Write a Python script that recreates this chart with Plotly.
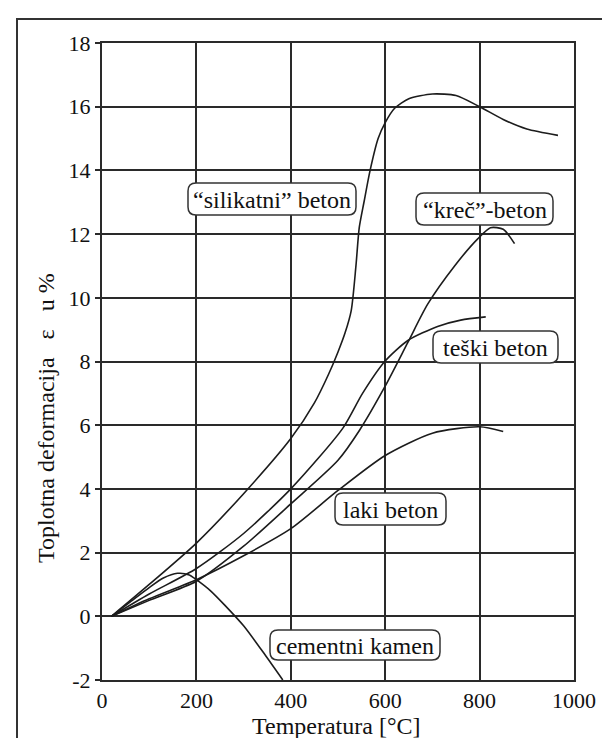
import plotly.graph_objects as go

# ---------------- data ----------------
silikatni_T = [20, 100, 200, 300, 400, 450, 480, 500, 515, 528, 538, 545, 555, 568, 585, 600, 620, 650, 700, 750, 800, 850, 900, 966]
silikatni_v = [0, 1.0, 2.3, 3.85, 5.58, 6.7, 7.6, 8.3, 8.9, 9.6, 11.0, 12.2, 13.0, 14.0, 15.0, 15.5, 15.95, 16.25, 16.4, 16.35, 16.0, 15.6, 15.3, 15.1]

krec_T = [20, 100, 200, 300, 400, 500, 546, 599, 648, 690, 747, 796, 823, 850, 874]
krec_v = [0, 0.5, 1.1, 2.2, 3.53, 4.9, 5.85, 7.2, 8.6, 9.8, 11.0, 11.85, 12.2, 12.15, 11.7]

teski_T = [20, 100, 200, 300, 400, 510, 552, 599, 648, 711, 760, 813]
teski_v = [0, 0.7, 1.5, 2.6, 4.0, 5.9, 7.0, 8.0, 8.66, 9.1, 9.3, 9.4]

laki_T = [20, 100, 200, 300, 400, 500, 600, 700, 800, 850]
laki_v = [0, 0.55, 1.15, 1.9, 2.75, 3.95, 5.05, 5.75, 5.95, 5.8]

cement_T = [20, 60, 100, 130, 160, 185, 200, 230, 260, 300, 340, 383]
cement_v = [0, 0.45, 0.9, 1.2, 1.35, 1.3, 1.15, 0.8, 0.35, -0.3, -1.1, -2.0]

x_ticks = [0, 200, 400, 600, 800, 1000]
x_ticklabels = ["0", "200", "400", "600", "800", "1000"]
y_ticks = [-2, 0, 2, 4, 6, 8, 10, 12, 14, 16, 18]
y_ticklabels = ["-2", "0", "2", "4", "6", "8", "10", "12", "14", "16", "18"]

label_texts = ["\u201csilikatni\u201d beton", "\u201ckre\u010d\u201d-beton", "te\u0161ki beton", "laki beton", "cementni kamen"]

# ---------------- layout geometry (pixels) ----------------
W, H = 610, 738
L, R, T, B = 94, 44, 35, 66
PW, PH = W - L - R, H - T - B
XMIN, XMAX, YMIN, YMAX = 0, 1000, -2, 18

def px2x(px):
    return XMIN + (px - L) / PW * (XMAX - XMIN)

def py2y(py):
    return YMAX - (py - T) / PH * (YMAX - YMIN)

def rounded_path(x0, y0, x1, y1, r=8):
    def P(px, py):
        return f"{px2x(px):.4f},{py2y(py):.4f}"
    return (f"M {P(x0 + r, y0)} L {P(x1 - r, y0)} Q {P(x1, y0)} {P(x1, y0 + r)} "
            f"L {P(x1, y1 - r)} Q {P(x1, y1)} {P(x1 - r, y1)} "
            f"L {P(x0 + r, y1)} Q {P(x0, y1)} {P(x0, y1 - r)} "
            f"L {P(x0, y0 + r)} Q {P(x0, y0)} {P(x0 + r, y0)} Z")

label_boxes = [(180, 175, 348, 207), (408, 185, 545, 217), (425, 323, 550, 355),
               (327, 485, 438, 517), (262, 622, 432, 652)]

LINE_COL = "#1c1c1c"
FONT = "Liberation Serif, Times New Roman, serif"

fig = go.Figure()
for Tv, vv in [(silikatni_T, silikatni_v), (krec_T, krec_v), (teski_T, teski_v),
               (laki_T, laki_v), (cement_T, cement_v)]:
    fig.add_trace(go.Scatter(x=Tv, y=vv, mode="lines",
                             line=dict(color=LINE_COL, width=1.6, shape="spline", smoothing=0.7),
                             hoverinfo="skip", showlegend=False))

shapes = []
annotations = []
for (x0, y0, x1, y1), txt in zip(label_boxes, label_texts):
    shapes.append(dict(type="path", xref="x", yref="y", path=rounded_path(x0, y0, x1, y1),
                       fillcolor="white", line=dict(color="#333333", width=1.5), layer="above"))
    annotations.append(dict(x=px2x((x0 + x1) / 2), y=py2y((y0 + y1) / 2 + 1), xref="x", yref="y",
                            text=txt, showarrow=False, font=dict(family=FONT, size=24, color="#111111"),
                            xanchor="center", yanchor="middle"))

# outer frame (left and top visible)
shapes.append(dict(type="rect", xref="paper", yref="paper",
                   x0=(9 - L) / PW, x1=1.2, y0=-0.3, y1=(H - B - 11) / PH,
                   line=dict(color="#333333", width=2), fillcolor="rgba(0,0,0,0)", layer="below"))

annotations.append(dict(x=(328 - L) / PW, y=(H - B - 718) / PH, xref="paper", yref="paper",
                        text="Temperatura [\u00b0C]", showarrow=False,
                        font=dict(family=FONT, size=24, color="#111111"),
                        xanchor="center", yanchor="middle"))
annotations.append(dict(x=(38 - L) / PW, y=(H - B - 410) / PH, xref="paper", yref="paper",
                        text="Toplotna deformacija \u2002\u03b5\u2002 u %", textangle=-90, showarrow=False,
                        font=dict(family=FONT, size=24, color="#111111"),
                        xanchor="center", yanchor="middle"))

axis_common = dict(showgrid=True, gridcolor="#2a2a2a", gridwidth=1.6, zeroline=False,
                   showline=True, linecolor="#2a2a2a", linewidth=2, mirror=True,
                   tickfont=dict(family=FONT, size=22, color="#111111"))

fig.update_layout(
    width=W, height=H, autosize=False,
    margin=dict(l=L, r=R, t=T, b=B),
    paper_bgcolor="white", plot_bgcolor="white",
    xaxis=dict(range=[XMIN, XMAX], tickvals=x_ticks, ticktext=x_ticklabels,
               ticks="", **axis_common),
    yaxis=dict(range=[YMIN, YMAX], tickvals=y_ticks, ticktext=y_ticklabels,
               ticks="outside", ticklen=5, tickcolor="#2a2a2a", tickwidth=1.5, **axis_common),
    shapes=shapes, annotations=annotations,
)

fig.write_html("out.html")
